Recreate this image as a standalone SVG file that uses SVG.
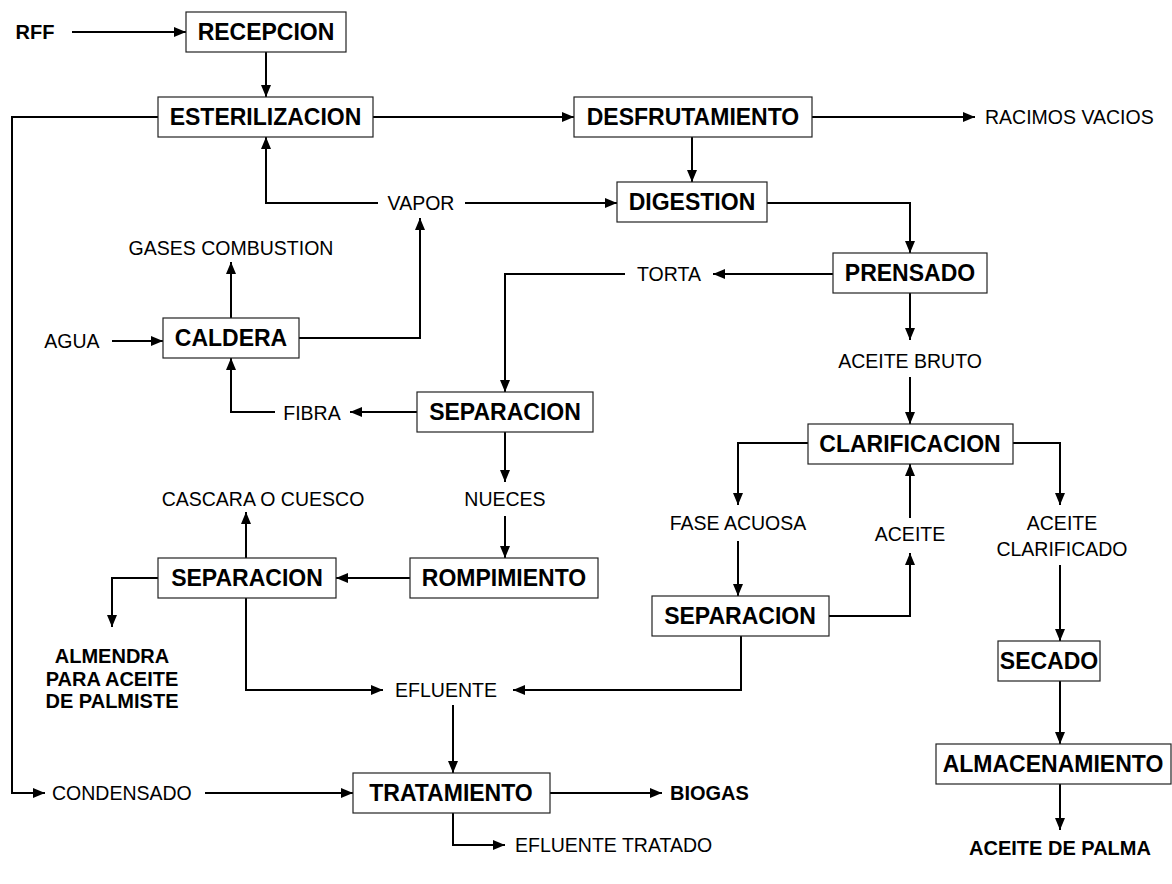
<svg xmlns="http://www.w3.org/2000/svg" width="1172" height="884" viewBox="0 0 1172 884">
<style>
.box rect{fill:#fff;stroke:#222;stroke-width:1.2}
.bt{font-family:"Liberation Sans",Arial,sans-serif;font-weight:bold;font-size:23px;text-anchor:middle;dominant-baseline:central;fill:#000}
.lb{font-family:"Liberation Sans",Arial,sans-serif;font-size:19.5px;dominant-baseline:central;fill:#000}
.lbb{font-family:"Liberation Sans",Arial,sans-serif;font-size:20px;font-weight:bold;dominant-baseline:central;fill:#000}
.c{text-anchor:middle}
.s{text-anchor:start}
#connectors path{fill:none;stroke:#000;stroke-width:2;marker-end:url(#ah)}
</style>
<defs>
<marker id="ah" markerUnits="userSpaceOnUse" markerWidth="12" markerHeight="10" refX="12" refY="5" orient="auto">
<path d="M0,0 L12,5 L0,10 z" fill="#000"/>
</marker>
</defs>
<rect width="1172" height="884" fill="#fff"/>
<g id="connectors">
<path d="M72,32 H186"/>
<path d="M266,52 V97"/>
<path d="M373,117 H574"/>
<path d="M812,117 H975"/>
<path d="M158,117 H12 V793 H45"/>
<path d="M692,137 V182"/>
<path d="M465,203 H617"/>
<path d="M378,203 H266 V137"/>
<path d="M299,338 H420 V218"/>
<path d="M231,318 V262"/>
<path d="M112,341 H163"/>
<path d="M417,412 H350"/>
<path d="M275,412 H231 V358"/>
<path d="M767,203 H910 V253"/>
<path d="M833,274 H713"/>
<path d="M625,274 H505 V392"/>
<path d="M910,293 V340"/>
<path d="M910,377 V424"/>
<path d="M808,443 H738 V505"/>
<path d="M1013,443 H1060 V505"/>
<path d="M910,518 V464"/>
<path d="M738,541 V596"/>
<path d="M829,616 H910 V553"/>
<path d="M741,636 V690 H513"/>
<path d="M1060,565 V641"/>
<path d="M1060,681 V744"/>
<path d="M1060,784 V830"/>
<path d="M505,432 V482"/>
<path d="M505,516 V558"/>
<path d="M410,578 H336"/>
<path d="M246,558 V512"/>
<path d="M158,578 H112 V627"/>
<path d="M246,598 V690 H383"/>
<path d="M453,705 V773"/>
<path d="M205,793 H353"/>
<path d="M550,793 H662"/>
<path d="M453,813 V845 H505"/>
</g>
<g id="recepcion" class="box"><rect x="186" y="12" width="160" height="40"/><text class="bt" x="266" y="32">RECEPCION</text></g>
<g id="esterilizacion" class="box"><rect x="158" y="97" width="215" height="40"/><text class="bt" x="265.5" y="117">ESTERILIZACION</text></g>
<g id="desfrutamiento" class="box"><rect x="574" y="97" width="238" height="40"/><text class="bt" x="693" y="117">DESFRUTAMIENTO</text></g>
<g id="digestion" class="box"><rect x="617" y="182" width="150" height="40"/><text class="bt" x="692" y="202">DIGESTION</text></g>
<g id="prensado" class="box"><rect x="833" y="253" width="154" height="40"/><text class="bt" x="910" y="273">PRENSADO</text></g>
<g id="caldera" class="box"><rect x="163" y="318" width="136" height="40"/><text class="bt" x="231" y="338">CALDERA</text></g>
<g id="separacion1" class="box"><rect x="417" y="392" width="176" height="40"/><text class="bt" x="505" y="412">SEPARACION</text></g>
<g id="clarificacion" class="box"><rect x="808" y="424" width="205" height="40"/><text class="bt" x="910" y="444">CLARIFICACION</text></g>
<g id="rompimiento" class="box"><rect x="410" y="558" width="188" height="40"/><text class="bt" x="504" y="578">ROMPIMIENTO</text></g>
<g id="separacion2" class="box"><rect x="158" y="558" width="178" height="40"/><text class="bt" x="247" y="578">SEPARACION</text></g>
<g id="separacion3" class="box"><rect x="652" y="596" width="177" height="40"/><text class="bt" x="740" y="616">SEPARACION</text></g>
<g id="secado" class="box"><rect x="998" y="641" width="102" height="40"/><text class="bt" x="1049" y="661">SECADO</text></g>
<g id="almacenamiento" class="box"><rect x="936" y="744" width="235" height="40"/><text class="bt" x="1053" y="764">ALMACENAMIENTO</text></g>
<g id="tratamiento" class="box"><rect x="353" y="773" width="197" height="40"/><text class="bt" x="451" y="793">TRATAMIENTO</text></g>
<g id="labels">
<text class="lbb c" x="35" y="32">RFF</text>
<text class="lb s" x="985" y="117">RACIMOS VACIOS</text>
<text class="lb c" x="421" y="203">VAPOR</text>
<text class="lb c" x="231" y="248">GASES COMBUSTION</text>
<text class="lb c" x="72" y="341">AGUA</text>
<text class="lb c" x="312" y="413">FIBRA</text>
<text class="lb c" x="669" y="274">TORTA</text>
<text class="lb c" x="910" y="361">ACEITE BRUTO</text>
<text class="lb c" x="738" y="523">FASE ACUOSA</text>
<text class="lb c" x="910" y="534">ACEITE</text>
<text class="lb c" x="1062" y="523">ACEITE</text>
<text class="lb c" x="1062" y="549">CLARIFICADO</text>
<text class="lb c" x="505" y="499">NUECES</text>
<text class="lb c" x="263" y="499">CASCARA O CUESCO</text>
<text class="lbb c" x="112" y="656">ALMENDRA</text>
<text class="lbb c" x="112" y="679">PARA ACEITE</text>
<text class="lbb c" x="112" y="701">DE PALMISTE</text>
<text class="lb c" x="446" y="690">EFLUENTE</text>
<text class="lb s" x="52" y="793">CONDENSADO</text>
<text class="lbb s" x="670" y="793">BIOGAS</text>
<text class="lb s" x="515" y="845">EFLUENTE TRATADO</text>
<text class="lbb c" x="1060" y="848">ACEITE DE PALMA</text>
</g>
</svg>
